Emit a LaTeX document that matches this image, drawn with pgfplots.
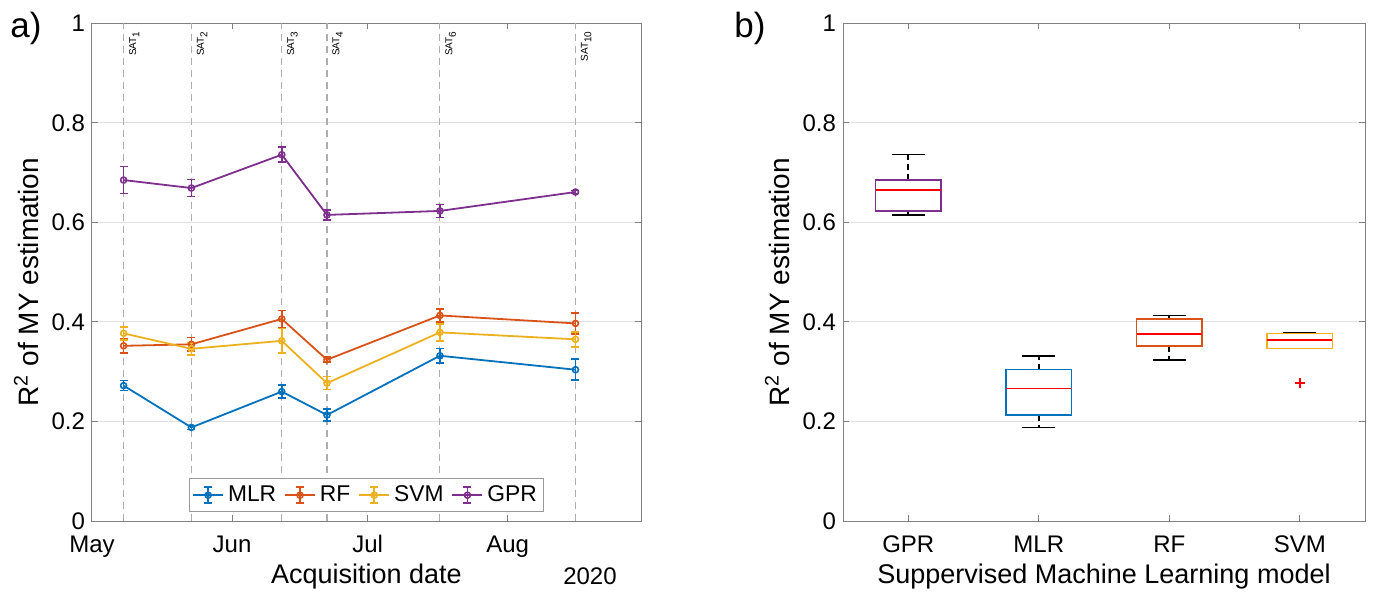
\documentclass[border=0pt]{standalone}
\usepackage{fontspec}
\setmainfont{Liberation Sans}
\usepackage{pgfplots}
\pgfplotsset{compat=1.18}
\usepgfplotslibrary{statistics}

\definecolor{cMLR}{rgb}{0,0.447,0.741}
\definecolor{cRF}{rgb}{0.850,0.325,0.098}
\definecolor{cSVM}{rgb}{0.929,0.694,0.125}
\definecolor{cGPR}{rgb}{0.494,0.184,0.556}

\newcommand\tickfont{\fontsize{12}{14}\selectfont}
\newcommand\labfont{\fontsize{13.5}{16}\selectfont}

\pgfplotsset{
  matlab/.style={
    scale only axis, anchor=south west,
    ymin=0, ymax=1, ytick={0,0.2,0.4,0.6,0.8,1},
    ymajorgrids, major grid style={black!12, line width=0.5pt},
    axis line style={black!50, line width=0.5pt},
    tick style={black!50, line width=0.5pt},
    major tick length=3pt, tick align=inside,
    xtick pos=both, ytick pos=both,
    xticklabel pos=lower, yticklabel pos=left,
    tick label style={font=\tickfont},
    label style={font=\labfont},
    ylabel style={font=\fontsize{14}{16}\selectfont},
    /pgf/number format/assume math mode=true,
    xticklabel style={anchor=base, yshift=-15.8pt},
    xlabel style={at={(axis description cs:0.5,-0.125)}, anchor=base},
  },
  eb/.style={error bars/.cd, y dir=both, y explicit,
    error bar style={line width=0.8pt},
    error mark options={rotate=90, mark size=2pt, line width=0.8pt}},
}
\tikzset{
  sat/.style={xshift=2.5pt, yshift=-3.5pt, rotate=90, anchor=north east,
    inner sep=0pt, font=\fontsize{5}{6}\selectfont},
}

\begin{document}
\begin{tikzpicture}
\path[use as bounding box] (0,0) rectangle (686.5pt,298pt);

% a) R2 over acquisition dates (x = days since 1 May 2020)
\begin{axis}[matlab, at={(46pt,37.5pt)}, width=274.5pt, height=248.85pt,
  xmin=0, xmax=121.5,
  xtick={0,31,61,92}, xticklabels={May,Jun,Jul,Aug},
  extra x ticks={7,22,42,52,77,107}, extra x tick labels={},
  extra x tick style={grid=major, major tick length=0pt,
    major grid style={black!32, dash pattern=on 3.5pt off 2.5pt, line width=0.55pt}},
  xlabel={Acquisition date},
  ylabel={R\textsuperscript{2} of MY estimation},
  ylabel style={at={(axis description cs:-0.098,0.48)}, anchor=base},
  every axis plot/.append style={line width=0.9pt, mark=o, mark size=1.5pt,
    mark options={solid, line width=0.8pt}},
  legend columns=4,
  legend style={at={(0.5,0.018)}, anchor=south, draw=black!40,
    font=\fontsize{11.4}{13}\selectfont, inner sep=1.5pt,
    /tikz/every even column/.append style={column sep=2pt}},
  legend image code/.code={
    \draw[#1, mark=none] (0pt,0pt) -- (15pt,0pt);
    \draw[#1, mark=none] (7.5pt,-4pt) -- (7.5pt,4pt)
      (5.5pt,-4pt) -- (9.5pt,-4pt) (5.5pt,4pt) -- (9.5pt,4pt);
    \draw[#1] plot[only marks] coordinates {(7.5pt,0pt)};
  },
]
\addplot[cMLR, eb] coordinates {
  (7,0.272) +- (0,0.010)
  (22,0.188) +- (0,0.004)
  (42,0.260) +- (0,0.013)
  (52,0.213) +- (0,0.012)
  (77,0.332) +- (0,0.015)
  (107,0.304) +- (0,0.021)
};
\addplot[cRF, eb] coordinates {
  (7,0.352) +- (0,0.014)
  (22,0.355) +- (0,0.014)
  (42,0.406) +- (0,0.017)
  (52,0.324) +- (0,0.005)
  (77,0.413) +- (0,0.013)
  (107,0.397) +- (0,0.021)
};
\addplot[cSVM, eb] coordinates {
  (7,0.377) +- (0,0.013)
  (22,0.346) +- (0,0.012)
  (42,0.362) +- (0,0.025)
  (52,0.277) +- (0,0.013)
  (77,0.379) +- (0,0.017)
  (107,0.365) +- (0,0.015)
};
\addplot[cGPR, eb] coordinates {
  (7,0.685) +- (0,0.027)
  (22,0.669) +- (0,0.017)
  (42,0.736) +- (0,0.015)
  (52,0.615) +- (0,0.010)
  (77,0.623) +- (0,0.013)
  (107,0.661) +- (0,0.003)
};
\legend{MLR,RF,SVM,GPR}
\node[sat] at (axis cs:7,1) {SAT\textsubscript{1}};
\node[sat] at (axis cs:22,1) {SAT\textsubscript{2}};
\node[sat] at (axis cs:42,1) {SAT\textsubscript{3}};
\node[sat] at (axis cs:52,1) {SAT\textsubscript{4}};
\node[sat] at (axis cs:77,1) {SAT\textsubscript{6}};
\node[sat] at (axis cs:107,1) {SAT\textsubscript{10}};
\end{axis}

% b) box plots per model
\begin{axis}[matlab, at={(421.5pt,37.5pt)}, width=261pt, height=248.85pt,
  xmin=0.5, xmax=4.5,
  xtick={1,2,3,4}, xticklabels={GPR,MLR,RF,SVM},
  xlabel={Suppervised Machine Learning model},
  ylabel={R\textsuperscript{2} of MY estimation},
  ylabel style={at={(axis description cs:-0.1034,0.48)}, anchor=base},
  boxplot/draw direction=y,
  boxplot/box extend=0.5, boxplot/whisker extend=0.25,
  boxplot/every median/.style={draw=red, line width=0.7pt},
  boxplot/every whisker/.style={draw=black, line width=0.8pt},
  boxplot/draw/lower whisker/.code={%
    \draw[/pgfplots/boxplot/every whisker/.try, dash pattern=on 3pt off 2pt]
      (boxplot box cs:\pgfplotsboxplotvalue{lower quartile},0.5) --
      (boxplot box cs:\pgfplotsboxplotvalue{lower whisker},0.5);
    \draw[/pgfplots/boxplot/every whisker/.try]
      (boxplot whisker cs:\pgfplotsboxplotvalue{lower whisker},0) --
      (boxplot whisker cs:\pgfplotsboxplotvalue{lower whisker},1);
  },
  boxplot/draw/upper whisker/.code={%
    \draw[/pgfplots/boxplot/every whisker/.try, dash pattern=on 3pt off 2pt]
      (boxplot box cs:\pgfplotsboxplotvalue{upper quartile},0.5) --
      (boxplot box cs:\pgfplotsboxplotvalue{upper whisker},0.5);
    \draw[/pgfplots/boxplot/every whisker/.try]
      (boxplot whisker cs:\pgfplotsboxplotvalue{upper whisker},0) --
      (boxplot whisker cs:\pgfplotsboxplotvalue{upper whisker},1);
  },
]
\addplot[draw=cGPR, line width=0.7pt, boxplot prepared={draw position=1,
  lower whisker=0.615, lower quartile=0.623, median=0.665,
  upper quartile=0.685, upper whisker=0.736}] coordinates {};
\addplot[draw=cMLR, line width=0.7pt, boxplot prepared={draw position=2,
  lower whisker=0.188, lower quartile=0.213, median=0.266,
  upper quartile=0.304, upper whisker=0.332}] coordinates {};
\addplot[draw=cRF, line width=0.7pt, boxplot prepared={draw position=3,
  lower whisker=0.324, lower quartile=0.352, median=0.376,
  upper quartile=0.406, upper whisker=0.413}] coordinates {};
\addplot[draw=cSVM, line width=0.7pt,
  boxplot/draw/lower whisker/.code={},
  boxplot prepared={draw position=4,
  lower whisker=0.346, lower quartile=0.346, median=0.3635,
  upper quartile=0.377, upper whisker=0.379}] coordinates {};
% outlier of SVM
\addplot[only marks, color=red, mark=+, mark size=2.4pt,
  mark options={draw=red, line width=0.8pt}]
  coordinates {(4,0.277)};
\end{axis}

\node[font=\fontsize{17.5}{20}\selectfont] at (13pt,284pt) {a)};
\node[font=\fontsize{17.5}{20}\selectfont] at (375pt,284pt) {b)};
\node[font=\tickfont, anchor=base] at (295pt,6pt) {2020};
\end{tikzpicture}
\end{document}
